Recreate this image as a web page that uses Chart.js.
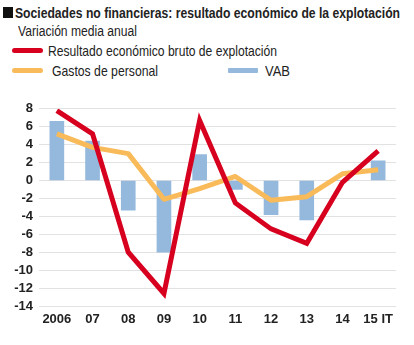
<!DOCTYPE html>
<html><head><meta charset="utf-8">
<script src="https://cdn.jsdelivr.net/npm/chart.js@4.4.0/dist/chart.umd.min.js"></script>
<style>
html,body{margin:0;padding:0;background:#fff;width:414px;height:345px;overflow:hidden;font-family:"Liberation Sans",Arial,sans-serif;}
.t{position:absolute;white-space:nowrap;transform-origin:0 50%;color:#222;line-height:1;}
#sq{position:absolute;left:3px;top:7px;width:10px;height:11px;background:#111;}
.sw{position:absolute;height:5px;border-radius:3px;}
#wrap{position:absolute;left:0;top:95px;width:414px;height:250px;}
</style></head><body>
<div id="sq"></div>
<div class="t" id="title" data-w="385" style="left:15px;top:5px;font-size:15px;font-weight:bold;">Sociedades no financieras: resultado económico de la explotación</div>
<div class="t" id="sub" data-w="119" style="left:18px;top:24px;font-size:14px;">Variación media anual</div>
<div class="sw" style="left:12px;top:48px;width:31px;background:#d7001f;"></div>
<div class="t" id="l1" data-w="229" style="left:48px;top:43px;font-size:15px;">Resultado económico bruto de explotación</div>
<div class="sw" style="left:12px;top:68px;width:31px;background:#f9bb5a;"></div>
<div class="t" id="l2" data-w="106" style="left:52px;top:63px;font-size:15px;">Gastos de personal</div>
<div class="sw" style="left:228px;top:68px;width:30px;background:#94b9dc;border-radius:1px;"></div>
<div class="t" id="l3" data-w="25" style="left:265px;top:63px;font-size:15px;">VAB</div>
<div id="wrap"><canvas id="c" width="414" height="250"></canvas></div>
<script>
const categories = ["2006","07","08","09","10","11","12","13","14","15 IT"];
const resultado = [7.8, 5.2, -8.0, -12.6, 6.7, -2.5, -5.4, -7.0, -0.2, 3.3];
const gastos = [5.2, 3.7, 3.0, -2.1, -0.9, 0.45, -2.2, -1.8, 0.75, 1.2];
const vab = [6.6, 4.4, -3.3, -8.0, 2.9, -1.0, -3.8, -4.4, 0, 2.2];
const yMin = -14, yMax = 8, yStep = 2;

document.querySelectorAll('.t').forEach(el => {
  const w = el.getBoundingClientRect().width;
  const target = parseFloat(el.dataset.w);
  el.style.transform = 'scaleX(' + (target / w) + ')';
});

new Chart(document.getElementById('c'), {
  type: 'bar',
  data: {
    labels: categories,
    datasets: [
      {type:'line', label:'Resultado económico bruto de explotación', data: resultado, borderColor:'#d7001f', borderWidth:5, pointRadius:0, tension:0, borderJoinStyle:'miter', order:1},
      {type:'line', label:'Gastos de personal', data: gastos, borderColor:'#f9bb5a', borderWidth:5, pointRadius:0, tension:0, borderJoinStyle:'round', order:2},
      {type:'bar', label:'VAB', data: vab, backgroundColor:'#94b9dc', barThickness:14, order:3}
    ]
  },
  options: {
    responsive:false, animation:false,
    layout:{padding:{top:8,right:18,left:0,bottom:0}},
    plugins:{legend:{display:false}, tooltip:{enabled:false}},
    scales:{
      x:{
        grid:{display:false, drawTicks:false},
        border:{display:false},
        ticks:{color:'#222', font:{family:'Liberation Sans', size:13, weight:'bold'}, padding:6, maxRotation:0, autoSkip:false},
        afterFit(s){ s.height = 39; }
      },
      y:{
        min:yMin, max:yMax,
        grid:{color:'#e2e2e2', lineWidth:1, drawTicks:false},
        border:{display:false},
        ticks:{stepSize:yStep, autoSkip:false, color:'#222', font:{family:'Liberation Sans', size:13, weight:'bold'}, padding:6},
        afterFit(s){ s.width = 39; }
      }
    }
  }
});
</script>
</body></html>
